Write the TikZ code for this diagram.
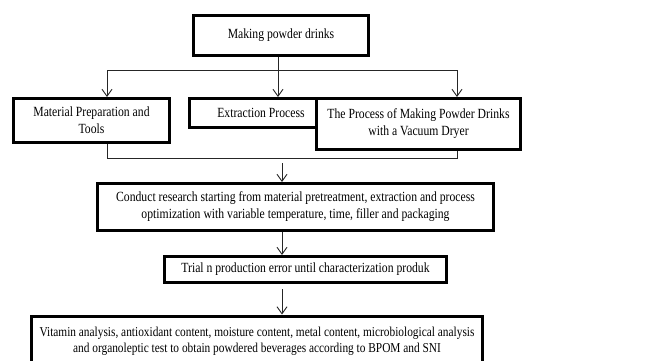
\documentclass[tikz,border=0pt]{standalone}
\usepackage{fontspec}
\setmainfont{Liberation Serif}[FakeStretch=0.835]
\usetikzlibrary{arrows.meta,positioning,calc}
\tikzset{
  kotak/.style={draw,line width=3pt,fill=white,align=center,inner sep=2pt,
                font=\fontsize{14}{17}\selectfont},
  garis/.style={line width=0.9pt,draw=black!85},
  panah/.style={garis,-{Straight Barb[length=7pt,width=10pt,line width=0.9pt]}},
}
\begin{document}
\begin{tikzpicture}[x=1pt,y=-1pt]
  \clip (0,0) rectangle (657,360);
  \node[kotak,minimum width=175,minimum height=40] (buat) at (281,35.5) {Making powder drinks};
  \node[kotak,minimum width=156,minimum height=44] (bahan) at (91.5,120.5) {Material Preparation and\\Tools};
  \node[kotak,minimum width=143,minimum height=29] (ekstrak) at (261,113) {Extraction Process};
  \node[kotak,minimum width=204,minimum height=51] (vakum) at (418.5,124) {The Process of Making Powder Drinks\\with a Vacuum Dryer};
  \node[kotak,minimum width=396,minimum height=47] (riset) at (295.5,207) {Conduct research starting from material pretreatment, extraction and process\\optimization with variable temperature, time, filler and packaging};
  \node[kotak,minimum width=282,minimum height=26] (uji) at (305.5,269.5) {Trial n production error until characterization produk};
  \node[kotak,minimum width=451,minimum height=50,anchor=north,font=\fontsize{13.6}{16}\selectfont] (analisis) at (257,314.5) {Vitamin analysis, antioxidant content, moisture content, metal content, microbiological analysis\\and organoleptic test to obtain powdered beverages according to BPOM and SNI};
  \coordinate (atasKiri) at (107,70);
  \coordinate (atasKanan) at (457,70);
  \coordinate (bawahKiri) at (107,158);
  \coordinate (bawahKanan) at (457,158);
  \coordinate (tengah) at (282,158);
  \draw[garis] (atasKiri) -- (atasKanan);
  \draw[panah] (buat.south -| 278,0) -- (ekstrak.north -| 278,0);
  \draw[panah] (atasKiri) -- (bahan.north -| atasKiri);
  \draw[panah] (atasKanan) -- (vakum.north -| atasKanan);
  \draw[garis] (bahan.south -| bawahKiri) -- (bawahKiri) -- (bawahKanan) -- (vakum.south -| bawahKanan);
  \draw[panah,shorten <=5pt] (tengah) -- (riset.north -| tengah);
  \draw[panah] (riset.south -| tengah) -- (uji.north -| tengah);
  \draw[panah,shorten <=5pt] (uji.south -| tengah) -- (analisis.north -| tengah);
\end{tikzpicture}
\end{document}
